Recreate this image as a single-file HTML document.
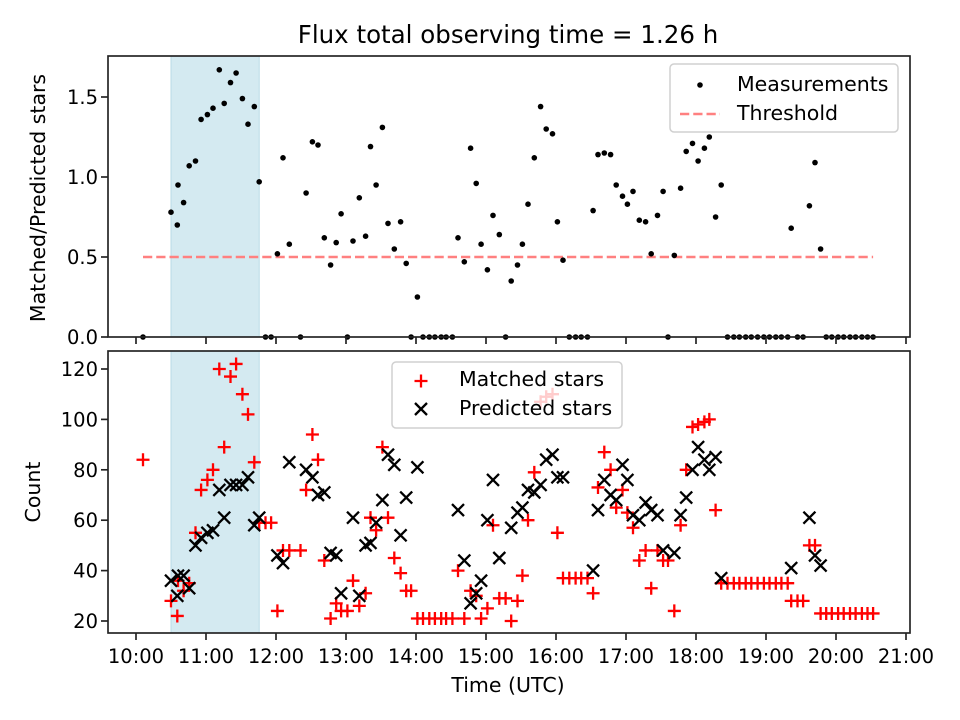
<!DOCTYPE html>
<html><head><meta charset="utf-8">
<style>
html,body{margin:0;padding:0;background:#fff;}
svg{display:block;font-family:"DejaVu Sans","Liberation Sans",sans-serif;}
</style></head>
<body>
<svg id="chart" width="960" height="720" viewBox="0 0 960 720" xmlns="http://www.w3.org/2000/svg">
<rect width="960" height="720" fill="#fff"/>
<text x="508" y="43" font-size="24.5" text-anchor="middle">Flux total observing time = 1.26 h</text>
<g id="topPanel"></g>
<g id="botPanel"></g>
</svg>
<script>
const times = [10.10,10.50,10.59,10.60,10.68,10.76,10.85,10.93,11.02,11.10,11.19,11.26,11.35,11.43,11.52,11.60,11.69,11.76,11.85,11.93,12.02,12.10,12.19,12.35,12.43,12.52,12.60,12.69,12.78,12.86,12.93,13.02,13.10,13.19,13.28,13.35,13.43,13.52,13.60,13.69,13.78,13.86,13.93,14.02,14.10,14.19,14.27,14.36,14.43,14.52,14.60,14.69,14.78,14.86,14.93,15.02,15.10,15.19,15.28,15.36,15.45,15.52,15.60,15.69,15.78,15.86,15.95,16.02,16.10,16.19,16.28,16.36,16.45,16.53,16.60,16.69,16.78,16.86,16.95,17.02,17.10,17.19,17.28,17.36,17.45,17.53,17.60,17.69,17.78,17.86,17.95,18.03,18.12,18.19,18.28,18.36,18.45,18.54,18.62,18.71,18.79,18.88,18.97,19.05,19.14,19.22,19.31,19.36,19.45,19.53,19.62,19.70,19.78,19.86,19.94,20.03,20.11,20.20,20.28,20.37,20.45,20.53];
const ratio = [0,0.78,0.70,0.95,0.84,1.07,1.10,1.36,1.39,1.43,1.67,1.46,1.59,1.65,1.49,1.33,1.44,0.97,0,0,0.52,1.12,0.58,0,0.90,1.22,1.20,0.62,0.45,0.59,0.77,0,0.60,0.87,0.63,1.19,0.95,1.31,0.71,0.55,0.72,0.46,0,0.25,0,0,0,0,0,0,0.62,0.47,1.18,0.96,0.58,0.42,0.76,0.64,0,0.35,0.45,0.58,0.83,1.12,1.44,1.30,1.27,0.72,0.48,0,0,0,0,0.79,1.14,1.15,1.14,0.95,0.88,0.83,0.91,0.73,0.72,0.52,0.76,0.91,0,0.51,0.93,1.16,1.21,1.10,1.18,1.25,0.75,0.95,0,0,0,0,0,0,0,0,0,0,0,0.68,0,0,0.82,1.09,0.55,0,0,0,0,0,0,0,0,0];
const matched = [84,28,22,36,32,35,55,72,76,80,120,89,117,122,110,102,83,59,59,59,24,48,48,48,72,94,84,44,21,27,24,24,36,26,31,61,56,89,61,45,39,32,32,21,21,21,21,21,21,21,40,21,32,30,21,25,58,29,29,20,28,38,60,79,107,109,110,55,37,37,37,37,37,31,73,87,80,65,72,63,57,44,48,33,48,44,44,24,58,80,97,98,99,100,64,35,35,35,35,35,35,35,35,35,35,35,35,28,28,28,50,50,23,23,23,23,23,23,23,23,23,23];
const predicted = [null,36,30,38,38,33,50,53,55,56,72,61,74,74,74,77,58,61,null,null,46,43,83,null,80,77,70,71,47,46,31,null,61,30,50,51,59,68,86,82,54,69,null,81,null,null,null,null,null,null,64,44,27,31,36,60,76,45,null,57,63,65,72,71,74,84,86,77,77,null,null,null,null,40,64,76,70,68,82,76,62,60,67,64,62,48,null,47,62,69,80,89,84,80,85,37,null,null,null,null,null,null,null,null,null,null,null,41,null,null,61,46,42,null,null,null,null,null,null,null,null,null];
const xTicks = [10,11,12,13,14,15,16,17,18,19,20,21];
const xTickLabels = ["10:00","11:00","12:00","13:00","14:00","15:00","16:00","17:00","18:00","19:00","20:00","21:00"];
const topTicks = [0,0.5,1.0,1.5];
const topTickLabels = ["0.0","0.5","1.0","1.5"];
const botTicks = [20,40,60,80,100,120];
const threshold = 0.5;
const thresholdRange = [10.10,20.53];
const spanRange = [10.5,11.76];

(function(){
const NS="http://www.w3.org/2000/svg";
const L=108,R=910;
const TT=56,TB=337,BT=351,BB=633;
const FS=19.5;
const X=t=>136+(t-10)*70;
const YT=v=>337-v*160;
const YB=c=>621-(c-20)*2.52;
function mk(tag,attrs,parent){const e=document.createElementNS(NS,tag);for(const k in attrs)e.setAttribute(k,attrs[k]);parent.appendChild(e);return e;}
const gTop=document.getElementById('topPanel'), gBot=document.getElementById('botPanel');

let sp=mk('rect',{x:X(spanRange[0]),y:TT,width:X(spanRange[1])-X(spanRange[0]),height:TB-TT,fill:'#d4eaf1',stroke:'#b8dbe6','stroke-width':1},gTop);


let sp2=mk('rect',{x:X(spanRange[0]),y:BT,width:X(spanRange[1])-X(spanRange[0]),height:BB-BT,fill:'#d4eaf1',stroke:'#b8dbe6','stroke-width':1},gBot);



let th=mk('line',{x1:X(thresholdRange[0]),x2:X(thresholdRange[1]),y1:YT(threshold),y2:YT(threshold),stroke:'#ff8080','stroke-width':2.5,'stroke-dasharray':'9.25 4'},gTop);



for(let i=0;i<times.length;i++){
  let c=mk('circle',{cx:X(times[i]),cy:YT(ratio[i]),r:2.8,fill:'#000'},gTop);
  
  
}
for(let i=0;i<times.length;i++){
  const x=X(times[i]),y=YB(matched[i]);
  let p=mk('path',{d:`M${x-6.5} ${y}H${x+6.5}M${x} ${y-6.5}V${y+6.5}`,stroke:'#ff0000','stroke-width':2.3,fill:'none'},gBot);
  
  
}
for(let i=0;i<times.length;i++){
  if(predicted[i]===null)continue;
  const x=X(times[i]),y=YB(predicted[i]),s=6;
  let p=mk('path',{d:`M${x-s} ${y-s}L${x+s} ${y+s}M${x-s} ${y+s}L${x+s} ${y-s}`,stroke:'#000','stroke-width':2.3,fill:'none'},gBot);
  
  
}

let f1=mk('rect',{x:L,y:TT,width:R-L,height:TB-TT,fill:'none',stroke:'#222','stroke-width':1.67},gTop);


let f2=mk('rect',{x:L,y:BT,width:R-L,height:BB-BT,fill:'none',stroke:'#222','stroke-width':1.67},gBot);



xTicks.forEach((t,i)=>{
  let a=mk('line',{x1:X(t),x2:X(t),y1:TB,y2:TB+7,stroke:'#222','stroke-width':1.67},gTop);
  
  
  let b=mk('line',{x1:X(t),x2:X(t),y1:BB,y2:BB+7,stroke:'#222','stroke-width':1.67},gBot);
  
  
  let tx=mk('text',{x:X(t),y:BB+30,'font-size':FS,'text-anchor':'middle'},gBot);
  tx.textContent=xTickLabels[i];
  
  
});
topTicks.forEach((v,i)=>{
  let a=mk('line',{x1:L-7,x2:L,y1:YT(v),y2:YT(v),stroke:'#222','stroke-width':1.67},gTop);
  
  
  let tx=mk('text',{x:L-10,y:YT(v)+7,'font-size':FS,'text-anchor':'end'},gTop);
  tx.textContent=topTickLabels[i];
  
  
});
botTicks.forEach(v=>{
  let a=mk('line',{x1:L-7,x2:L,y1:YB(v),y2:YB(v),stroke:'#222','stroke-width':1.67},gBot);
  
  
  let tx=mk('text',{x:L-10,y:YB(v)+7,'font-size':FS,'text-anchor':'end'},gBot);
  tx.textContent=String(v);
  
  
});
})();
</script>
<svg style="position:absolute;left:0;top:0" width="960" height="720">
<g font-family="DejaVu Sans, Liberation Sans, sans-serif" font-size="20.5">
<text transform="translate(45,198) rotate(-90)" text-anchor="middle">Matched/Predicted stars</text>
<text transform="translate(40,492) rotate(-90)" text-anchor="middle">Count</text>
<text x="508" y="692" text-anchor="middle">Time (UTC)</text>
<g>
<rect x="670" y="64" width="228" height="68" rx="4" fill="#fff" fill-opacity="0.8" stroke="#d0d0d0" stroke-width="1.5"/>
<circle cx="700" cy="85" r="2.8" fill="#000"/>
<text x="737" y="91">Measurements</text>
<line x1="680" x2="720" y1="114" y2="114" stroke="#ff8080" stroke-width="2.5" stroke-dasharray="9.25 4"/>
<text x="737" y="120">Threshold</text>
</g>
<g>
<rect x="392" y="362" width="230" height="66" rx="4" fill="#fff" fill-opacity="0.8" stroke="#d0d0d0" stroke-width="1.5"/>
<path d="M414.5 381H427.5M421 374.5V387.5" stroke="#f00" stroke-width="2.3"/>
<text x="459" y="386">Matched stars</text>
<path d="M415 403L427 415M415 415L427 403" stroke="#000" stroke-width="2.3"/>
<text x="459" y="415">Predicted stars</text>
</g>
</g>
</svg>
</body></html>
